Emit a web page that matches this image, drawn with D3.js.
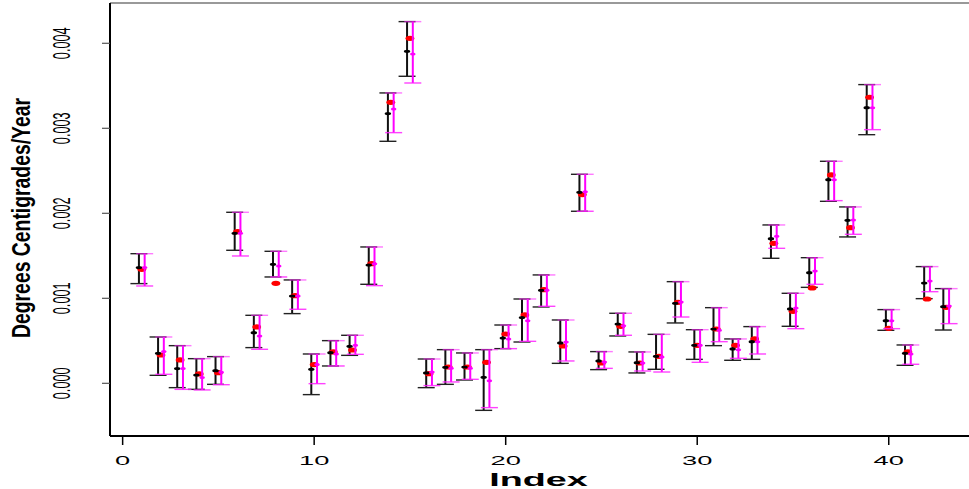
<!DOCTYPE html>
<html>
<head>
<meta charset="utf-8">
<script src="https://cdn.jsdelivr.net/npm/d3@7"></script>
<style>
  html, body { margin: 0; padding: 0; background: #fff; }
  svg { display: block; }
  text { font-family: "Liberation Sans", Arial, Helvetica, sans-serif; fill: #000; }
</style>
</head>
<body>
<svg id="chart" width="969" height="489"></svg>
<script>
// Warming trends per station, in units of 10^-3 degrees C per year.
const UNIT = 1e-3;
const stationIndex = d3.range(1, 44);

// Estimate A (black, with interval)
const blackTrend = [1.361, 0.353, 0.173, 0.098, 0.149, 1.765, 0.596, 1.400, 1.027, 0.165,
                    0.361, 0.435, 1.392, 3.173, 3.906, 0.122, 0.188, 0.192, 0.071, 0.533,
                    0.773, 1.094, 0.475, 2.247, 0.263, 0.698, 0.243, 0.318, 0.941, 0.447,
                    0.639, 0.404, 0.490, 1.702, 0.875, 1.302, 2.396, 1.918, 3.243, 0.737,
                    0.353, 1.180, 0.902];
const blackLower = [1.173, 0.094, -0.051, -0.071, -0.012, 1.565, 0.420, 1.251, 0.820, -0.133,
                    0.204, 0.329, 1.165, 2.847, 3.612, -0.051, -0.012, 0.039, -0.318, 0.408,
                    0.486, 0.898, 0.235, 2.024, 0.161, 0.557, 0.122, 0.165, 0.710, 0.282,
                    0.443, 0.271, 0.282, 1.471, 0.671, 1.129, 2.141, 1.722, 2.925, 0.624,
                    0.212, 0.996, 0.627];
const blackUpper = [1.525, 0.545, 0.443, 0.290, 0.314, 2.012, 0.800, 1.553, 1.216, 0.345,
                    0.502, 0.565, 1.604, 3.416, 4.255, 0.286, 0.396, 0.357, 0.396, 0.686,
                    0.992, 1.275, 0.745, 2.459, 0.373, 0.824, 0.369, 0.576, 1.196, 0.631,
                    0.890, 0.522, 0.667, 1.863, 1.059, 1.478, 2.612, 2.075, 3.514, 0.867,
                    0.451, 1.373, 1.114];

// Estimate B (red points)
const redTrend = [1.341, 0.333, 0.275, 0.110, 0.125, 1.784, 0.663, 1.176, 1.031, 0.220,
                  0.369, 0.392, 1.408, 3.306, 4.059, 0.114, 0.192, 0.192, 0.247, 0.580,
                  0.804, 1.102, 0.439, 2.220, 0.239, 0.671, 0.239, 0.318, 0.953, 0.447,
                  0.639, 0.447, 0.522, 1.647, 0.847, 1.122, 2.451, 1.831, 3.365, 0.647,
                  0.369, 0.992, 0.894];

// Estimate C (magenta, with interval)
const magentaTrend = [1.361, 0.373, 0.173, 0.067, 0.129, 1.765, 0.557, 1.380, 1.027, 0.220,
                      0.345, 0.447, 1.408, 3.227, 3.875, 0.133, 0.176, 0.176, 0.031, 0.522,
                      0.737, 1.094, 0.486, 2.255, 0.251, 0.678, 0.239, 0.310, 0.957, 0.447,
                      0.624, 0.396, 0.490, 1.729, 0.886, 1.322, 2.396, 1.922, 3.243, 0.737,
                      0.345, 1.204, 0.910];
const magentaLower = [1.145, 0.106, -0.071, -0.078, -0.016, 1.498, 0.400, 1.251, 0.871, -0.004,
                      0.204, 0.341, 1.149, 2.949, 3.533, -0.027, 0.016, 0.047, -0.286, 0.408,
                      0.494, 0.906, 0.263, 2.024, 0.176, 0.565, 0.145, 0.133, 0.780, 0.247,
                      0.490, 0.294, 0.345, 1.588, 0.643, 1.165, 2.149, 1.753, 2.984, 0.643,
                      0.224, 1.078, 0.702];
const magentaUpper = blackUpper.slice();

const xTickValues = [0, 10, 20, 30, 40];
const yTickValues = [0, 0.001, 0.002, 0.003, 0.004];
const yTickLabels = ["0.000", "0.001", "0.002", "0.003", "0.004"];
const xTitle = "Index";
const yTitle = "Degrees Centigrades/Year";

// Plot region
const W = 969, H = 489;
const plotLeft = 110, plotRight = 978, plotTop = 3, plotBottom = 435;

const x = d3.scaleLinear().domain([-0.66, 44.66]).range([plotLeft, plotRight]);
const y = d3.scaleLinear().domain([-0.000608, 0.004474]).range([plotBottom, plotTop]);

const svg = d3.select("#chart");

const rows = stationIndex.map((idx, k) => ({
  idx,
  b: blackTrend[k] * UNIT, bLo: blackLower[k] * UNIT, bHi: blackUpper[k] * UNIT,
  r: redTrend[k] * UNIT,
  m: magentaTrend[k] * UNIT, mLo: magentaLower[k] * UNIT, mHi: magentaUpper[k] * UNIT
}));

const shift = 0.15, capHalf = 8.5;

// Estimate A: interval bars with caps
const gB = svg.append("g");
gB.selectAll("line.bar").data(rows).join("line")
  .attr("x1", d => x(d.idx - shift)).attr("x2", d => x(d.idx - shift))
  .attr("y1", d => y(d.bLo)).attr("y2", d => y(d.bHi))
  .attr("stroke", "#111").attr("stroke-width", 2);
gB.selectAll("line.lo").data(rows).join("line")
  .attr("x1", d => x(d.idx - shift) - capHalf).attr("x2", d => x(d.idx - shift) + capHalf)
  .attr("y1", d => y(d.bLo)).attr("y2", d => y(d.bLo))
  .attr("stroke", "#222").attr("stroke-width", 1.4);
gB.selectAll("line.hi").data(rows).join("line")
  .attr("x1", d => x(d.idx - shift) - capHalf).attr("x2", d => x(d.idx - shift) + capHalf)
  .attr("y1", d => y(d.bHi)).attr("y2", d => y(d.bHi))
  .attr("stroke", "#222").attr("stroke-width", 1.4);

// Estimate B: red points
svg.append("g").selectAll("ellipse").data(rows).join("ellipse")
  .attr("cx", d => x(d.idx)).attr("cy", d => y(d.r))
  .attr("rx", 4.4).attr("ry", 2.6)
  .attr("fill", "#ff0000");

// Estimate A points
svg.append("g").selectAll("ellipse").data(rows).join("ellipse")
  .attr("cx", d => x(d.idx - shift)).attr("cy", d => y(d.b))
  .attr("rx", 3.2).attr("ry", 1.6)
  .attr("fill", "#000");

// Estimate C: magenta interval bars, caps and points
const gM = svg.append("g");
gM.selectAll("line.bar").data(rows).join("line")
  .attr("x1", d => x(d.idx + shift)).attr("x2", d => x(d.idx + shift))
  .attr("y1", d => y(d.mLo)).attr("y2", d => y(d.mHi))
  .attr("stroke", "#ff00ff").attr("stroke-width", 2);
gM.selectAll("line.lo").data(rows).join("line")
  .attr("x1", d => x(d.idx + shift) - capHalf).attr("x2", d => x(d.idx + shift) + capHalf)
  .attr("y1", d => y(d.mLo)).attr("y2", d => y(d.mLo))
  .attr("stroke", "#ff22ff").attr("stroke-width", 1.4).attr("opacity", 0.85);
gM.selectAll("line.hi").data(rows).join("line")
  .attr("x1", d => x(d.idx + shift) - capHalf).attr("x2", d => x(d.idx + shift) + capHalf)
  .attr("y1", d => y(d.mHi)).attr("y2", d => y(d.mHi))
  .attr("stroke", "#ff22ff").attr("stroke-width", 1.4).attr("opacity", 0.6);
gM.selectAll("ellipse").data(rows).join("ellipse")
  .attr("cx", d => x(d.idx + shift)).attr("cy", d => y(d.m))
  .attr("rx", 2.8).attr("ry", 1.5)
  .attr("fill", "#ff00ff");

// Frame
svg.append("line").attr("x1", plotLeft).attr("x2", W).attr("y1", plotTop).attr("y2", plotTop)
  .attr("stroke", "#777").attr("stroke-width", 1.4);
svg.append("line").attr("x1", plotLeft).attr("x2", plotLeft).attr("y1", plotTop).attr("y2", plotBottom + 1)
  .attr("stroke", "#000").attr("stroke-width", 2);
svg.append("line").attr("x1", plotLeft).attr("x2", W).attr("y1", plotBottom + 1).attr("y2", plotBottom + 1)
  .attr("stroke", "#000").attr("stroke-width", 2);

// x axis ticks and labels
const gx = svg.append("g");
gx.selectAll("line").data(xTickValues).join("line")
  .attr("x1", d => x(d)).attr("x2", d => x(d))
  .attr("y1", plotBottom + 1).attr("y2", plotBottom + 10)
  .attr("stroke", "#000").attr("stroke-width", 1.5);
gx.selectAll("text").data(xTickValues).join("text")
  .attr("transform", d => `translate(${x(d)},465) scale(2.1,1)`)
  .attr("text-anchor", "middle")
  .style("font-size", "13px")
  .text(d => d);

// y axis ticks and labels
const gy = svg.append("g");
gy.selectAll("line").data(yTickValues).join("line")
  .attr("x1", plotLeft - 8).attr("x2", plotLeft)
  .attr("y1", d => y(d)).attr("y2", d => y(d))
  .attr("stroke", "#555").attr("stroke-width", 1.2);
gy.selectAll("text").data(yTickValues).join("text")
  .attr("transform", d => `translate(61.5,${y(d)}) scale(1.84,1) rotate(-90)`)
  .attr("text-anchor", "middle")
  .attr("dy", "0.36em")
  .style("font-size", "12.7px")
  .text((d, k) => yTickLabels[k]);

// Axis titles
svg.append("text")
  .attr("transform", "translate(538.5,486) scale(2.1,1)")
  .attr("text-anchor", "middle")
  .style("font-size", "18px").style("font-weight", "bold")
  .text(xTitle);
svg.append("text")
  .attr("transform", "translate(23,218) scale(1.4,1) rotate(-90)")
  .attr("text-anchor", "middle")
  .attr("dy", "0.25em")
  .attr("textLength", 240).attr("lengthAdjust", "spacingAndGlyphs")
  .style("font-size", "19px").style("font-weight", "bold")
  .text(yTitle);
</script>
</body>
</html>
